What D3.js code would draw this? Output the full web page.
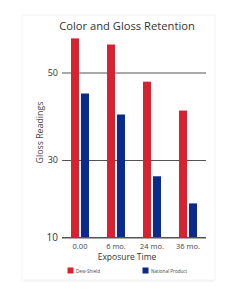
<!DOCTYPE html>
<html>
<head>
<meta charset="utf-8">
<script src="https://cdn.jsdelivr.net/npm/d3@7"></script>
<style>
  body { margin: 0; background: #fff; }
  text { font-family: "Open Sans", "Noto Sans", sans-serif; }
</style>
</head>
<body>
<script>
const w = 247;
const h = 296;

// ----- DATA -----
const periods = ["0.00", "6 mo.", "24 mo.", "36 mo."];
const dewShield = [57.8, 56.4, 47.9, 41.3];
const nationalProduct = [45.2, 40.4, 25.8, 18.8];
const yTicks = [10, 30, 50];
const seriesNames = ["Dew-Shield", "National Product"];
const seriesColors = ["#d8222f", "#0b2b8c"];

const svg = d3.select("body").append("svg")
  .attr("width", w)
  .attr("height", h);

// faint card behind the chart
svg.append("rect")
  .attr("x", 22).attr("y", 15)
  .attr("width", 193).attr("height", 265)
  .attr("fill", "#fff")
  .attr("stroke", "#f3f3f3");
svg.append("line")
  .attr("x1", 24).attr("x2", 214)
  .attr("y1", 281).attr("y2", 281)
  .attr("stroke", "#ececec");

// ----- SCALES -----
const x = d3.scaleBand().domain(periods).range([62, 206]);
// gridlines in the picture are not evenly spaced, so piecewise scale
const y = d3.scaleLinear().domain([10, 30, 50]).range([237.5, 160, 72.5]);

// ----- TITLE -----
svg.append("text")
  .attr("x", 127).attr("y", 29.5)
  .attr("text-anchor", "middle")
  .attr("font-size", "11.2px")
  .attr("fill", "#333")
  .text("Color and Gloss Retention");

// ----- GRIDLINES -----
const yAxis = d3.axisLeft(y).tickValues(yTicks).tickSize(-144).tickPadding(4);
const gy = svg.append("g")
  .attr("transform", "translate(62,0)")
  .call(yAxis);
gy.select(".domain").remove();
gy.selectAll(".tick line").attr("stroke", "#555").attr("stroke-width", 1);
gy.selectAll(".tick text")
  .attr("fill", "#333")
  .attr("font-size", d => d === 10 ? "10px" : "9px")
  .style("font-family", "'Open Sans', sans-serif");

// ----- BARS -----
const bw = 8;
const groups = svg.append("g").selectAll("g")
  .data(periods)
  .enter().append("g");

groups.append("rect")
  .attr("x", d => x(d) + x.bandwidth() / 2 - bw - 1)
  .attr("y", (d, i) => y(dewShield[i]))
  .attr("width", bw)
  .attr("height", (d, i) => y(10) - y(dewShield[i]))
  .attr("fill", seriesColors[0]);

groups.append("rect")
  .attr("x", d => x(d) + x.bandwidth() / 2 + 1)
  .attr("y", (d, i) => y(nationalProduct[i]))
  .attr("width", bw)
  .attr("height", (d, i) => y(10) - y(nationalProduct[i]))
  .attr("fill", seriesColors[1]);

// redraw the base line over the bars
svg.append("line")
  .attr("x1", 62).attr("x2", 206)
  .attr("y1", y(10)).attr("y2", y(10))
  .attr("stroke", "#555");

// ----- X AXIS -----
const xAxis = d3.axisBottom(x).tickSize(0).tickPadding(6);
const gx = svg.append("g")
  .attr("transform", "translate(0," + y(10) + ")")
  .call(xAxis);
gx.select(".domain").remove();
gx.selectAll(".tick text")
  .attr("fill", "#444")
  .attr("font-size", "7.5px")
  .style("font-family", "'Open Sans', sans-serif");

svg.append("text")
  .attr("x", 127).attr("y", 260)
  .attr("text-anchor", "middle")
  .attr("font-size", "8.5px")
  .attr("fill", "#333")
  .text("Exposure Time");

svg.append("text")
  .attr("transform", "translate(42.5,132.5) rotate(-90)")
  .attr("text-anchor", "middle")
  .attr("font-size", "8.8px")
  .attr("fill", "#444")
  .text("Gloss Readings");

// ----- LEGEND -----
const legendX = [67.5, 142.5];
const legend = svg.append("g").selectAll("g")
  .data(seriesNames)
  .enter().append("g")
  .attr("transform", (d, i) => "translate(" + legendX[i] + ",267.5)");

legend.append("rect")
  .attr("width", 6).attr("height", 6)
  .attr("fill", (d, i) => seriesColors[i]);

legend.append("text")
  .attr("x", 8.5).attr("y", 5.2)
  .attr("font-size", "4.6px")
  .attr("fill", "#444")
  .text(d => d);
</script>
</body>
</html>
